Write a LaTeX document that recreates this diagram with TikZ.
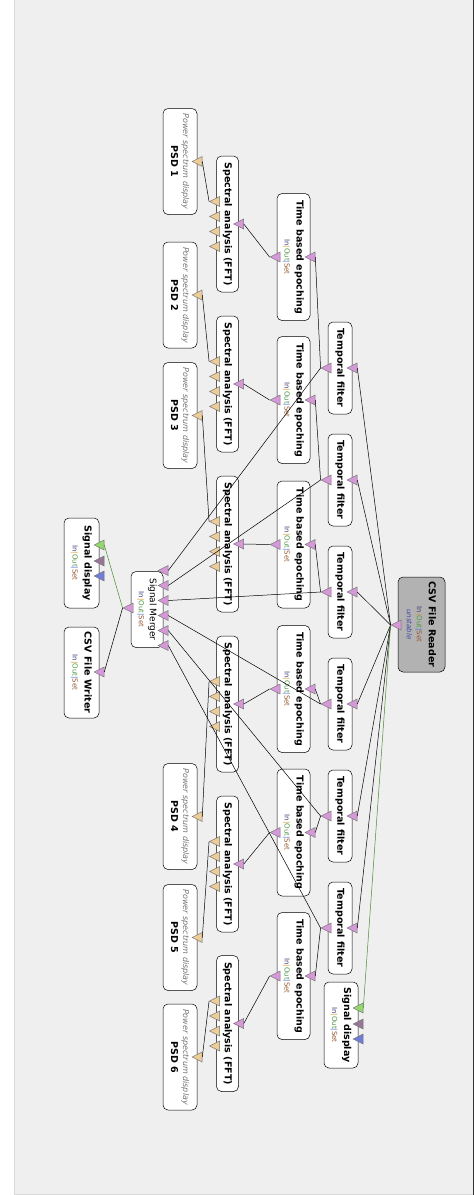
\documentclass[tikz,border=0pt]{standalone}
\usepackage{fontspec}
\setmainfont{DejaVu Sans}
\usetikzlibrary{shapes.geometric}
\definecolor{bgc}{RGB}{239,239,239}
\definecolor{sigc}{RGB}{214,152,216}
\definecolor{psdc}{RGB}{236,204,152}
\definecolor{grnc}{RGB}{150,214,110}
\definecolor{mauc}{RGB}{150,118,150}
\definecolor{bluc}{RGB}{112,124,214}
\definecolor{lnkg}{RGB}{70,140,50}
\definecolor{rdc}{RGB}{178,178,178}
\definecolor{cin}{RGB}{60,60,120}
\definecolor{cbar}{RGB}{215,150,40}
\definecolor{cout}{RGB}{80,150,70}
\definecolor{cbarb}{RGB}{80,110,210}
\definecolor{cset}{RGB}{150,90,50}
\definecolor{cunst}{RGB}{70,70,170}
\newcommand{\ioset}{{\fontsize{7}{8}\selectfont\mdseries\color{cin}In\color{cbar}|\color{cout}Out\color{cbarb}|\color{cset}Set}}
\newcommand{\subit}[2]{{\fontsize{#1}{9}\selectfont\mdseries\itshape #2}}

\begin{document}
\begin{tikzpicture}[x=1pt,y=-1pt,line width=0.5pt,
  blk/.style={draw,rounded corners=5pt,fill=white,rotate=-90,inner sep=0pt,align=center,
    font=\fontsize{9.5}{11}\selectfont\bfseries},
  port/.style={isosceles triangle,isosceles triangle stretches,shape border rotate=180,
    minimum width=10pt,minimum height=10pt,inner sep=0pt,draw=black!55,line width=0.4pt},
  sig/.style={port,fill=sigc},
  spc/.style={port,fill=psdc},
  cnv/.style={lnkg}]
\useasboundingbox (0,0) rectangle (474,1195);
% ================ canvas ================
\fill[white] (0,0) rectangle (474,1195);
\fill[bgc] (14.5,0) rectangle (473,1194.5);
\draw[black!15] (14.5,0) -- (14.5,1194.5) -- (473,1194.5);
\draw[black!80,line width=1pt] (473.5,0) -- (473.5,1195);
% ================ source ================
\node[blk,fill=rdc,minimum width=95pt,minimum height=47pt] (rd) at (421.5,624.5)
  {CSV File Reader\\[1pt]\ioset\\[-1pt]{\color{cunst}\subit{7}{unstable}}};
\node[sig] (rd-o) at (398,625) {};
% ================ six processing chains ================
% filter -> epoching -> FFT -> display
\foreach \i/\yt/\ye/\ys/\yp in {1/368/257/224/161.5,2/480/400/384/295,3/592/544.5/544/415.5,
    4/704/689/704/816.5,5/816/832.5/864/937.5,6/928/976/1023.5/1057}{
  \node[blk,minimum width=92pt,minimum height=24pt] (tf\i) at (340,\yt) {Temporal filter};
  \node[sig] (tf\i-i) at (354,\yt) {};
  \node[sig] (tf\i-o) at (328,\yt) {};
  \node[blk,minimum width=127pt,minimum height=33pt] (tbe\i) at (293.5,\ye) {Time based epoching\\[1pt]\ioset};
  \node[sig] (tbe\i-i) at (312,\ye) {};
  \node[sig] (tbe\i-o) at (277,\ye) {};
  \node[blk,minimum width=136pt,minimum height=22pt] (sa\i) at (227.5,\ys) {Spectral analysis (FFT)};
  \node[sig] (sa\i-i) at (240.5,\ys) {};
  \foreach \j/\d in {1/-22.5,2/-7.5,3/7.5,4/22.5}
    \node[spc] (sa\i-o\j) at (216.5,\ys+\d) {};
  \node[blk,minimum width=106pt,minimum height=34pt] (psd\i) at (180,\yp)
    {{\color{black!55}\subit{8}{Power spectrum display}}\\[1pt]PSD \i};
  \node[spc] (psd\i-i) at (199,\yp) {};
}
% ================ merger and sinks ================
\node[blk,font=\fontsize{9}{10}\selectfont,minimum width=76pt,minimum height=32pt] (mg) at (147,609.5)
  {Signal Merger\\[1pt]\ioset};
\foreach \j in {1,...,6}
  \node[sig] (mg-i\j) at (165,555.5+15*\j) {};
\node[sig] (mg-o) at (130,608) {};
\node[blk,minimum width=90pt,minimum height=35pt] (sd1) at (81.5,563) {Signal display\\[1pt]\ioset};
\node[port,fill=grnc] (sd1-i1) at (101,545) {};
\node[port,fill=mauc] (sd1-i2) at (101,561) {};
\node[port,fill=bluc] (sd1-i3) at (101,576) {};
\node[blk,minimum width=91pt,minimum height=35pt] (wr) at (81.5,672.5) {CSV File Writer\\[1pt]\ioset};
\node[sig] (wr-i) at (101,672) {};
\node[blk,minimum width=86pt,minimum height=34pt] (sd2) at (341,1025) {Signal display\\[1pt]\ioset};
\node[port,fill=grnc] (sd2-i1) at (360,1008) {};
\node[port,fill=mauc] (sd2-i2) at (360,1024) {};
\node[port,fill=bluc] (sd2-i3) at (360,1039) {};
% ================ links ================
\foreach \i in {1,...,6}{
  \draw (rd-o.apex) -- (tf\i-i.lower side);
  \draw (tf\i-o.apex) -- (tbe\i-i.lower side);
  \draw (tf\i-o.apex) -- (mg-i\i.lower side);
  \draw (tbe\i-o.apex) -- (sa\i-i.lower side);
  \draw (sa\i-o1.apex) -- (psd\i-i.lower side);
}
\draw[cnv] (rd-o.apex) -- (sd2-i1.lower side);
\draw[cnv] (mg-o.apex) -- (sd1-i1.lower side);
\draw (mg-o.apex) -- (wr-i.lower side);
\end{tikzpicture}
\end{document}
